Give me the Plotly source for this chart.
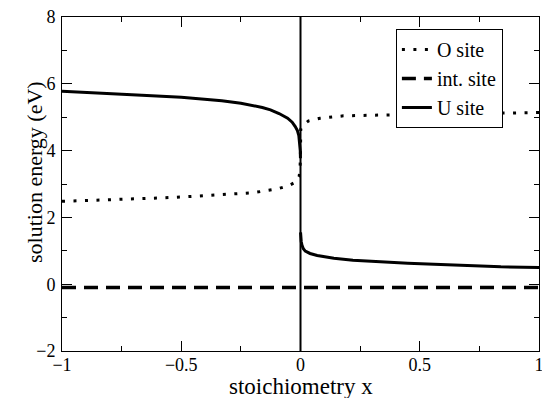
import plotly.graph_objects as go

# O site (dotted)
x_o = [-1.0, -0.85, -0.713, -0.6, -0.476, -0.336, -0.197, -0.099, -0.05, -0.025, -0.013,
       -0.006, -0.002, 0.0, 0.001, 0.01, 0.034, 0.082, 0.18, 0.3, 0.42, 0.655, 0.8, 0.95, 1.0]
y_o = [2.48, 2.51, 2.54, 2.58, 2.62, 2.67, 2.74, 2.85, 2.95, 3.04, 3.12,
       3.22, 3.40, 4.0, 4.64, 4.76, 4.89, 4.97, 5.04, 5.06, 5.07, 5.10, 5.11, 5.13, 5.14]

# U site (solid), two branches separated at x = 0
x_u_left = [-1.0, -0.9, -0.8, -0.665, -0.5, -0.4, -0.33, -0.25, -0.21, -0.16, -0.126,
            -0.09, -0.054, -0.035, -0.022, -0.013, -0.007, -0.003, -0.001, -0.0002]
y_u_left = [5.78, 5.75, 5.71, 5.66, 5.60, 5.54, 5.49, 5.42, 5.37, 5.29, 5.22,
            5.11, 4.97, 4.85, 4.72, 4.60, 4.45, 4.25, 4.00, 3.77]
x_u_right = [0.0002, 0.001, 0.003, 0.006, 0.012, 0.02, 0.04, 0.07, 0.14, 0.22, 0.33,
             0.45, 0.56, 0.7, 0.84, 1.0]
y_u_right = [1.55, 1.40, 1.28, 1.17, 1.06, 0.99, 0.92, 0.86, 0.78, 0.72, 0.67,
             0.63, 0.60, 0.56, 0.52, 0.50]

# interstitial site (dashed)
x_int = [-1.0, 1.0]
y_int = [-0.1, -0.1]

# vertical reference line at x = 0
x_vline = [0.0, 0.0]
y_vline = [-2.0, 8.0]

x_title = "stoichiometry x"
y_title = "solution energy (eV)"

FONT = "Liberation Serif, Times New Roman, serif"

fig = go.Figure()
fig.add_trace(go.Scatter(x=x_vline, y=y_vline, mode="lines",
                         line=dict(color="black", width=2), showlegend=False, hoverinfo="skip"))
fig.add_trace(go.Scatter(x=x_o, y=y_o, mode="lines", name="O site",
                         line=dict(color="black", width=3, dash="3px,8.5px")))
fig.add_trace(go.Scatter(x=x_int, y=y_int, mode="lines", name="int. site",
                         line=dict(color="black", width=3.5, dash="14px,8px")))
fig.add_trace(go.Scatter(x=x_u_left + [None] + x_u_right, y=y_u_left + [None] + y_u_right,
                         mode="lines", name="U site", connectgaps=False,
                         line=dict(color="black", width=3)))

axis_common = dict(
    showline=True, linecolor="black", linewidth=1, mirror="ticks",
    ticks="inside", ticklen=10, tickwidth=1, tickcolor="black",
    showgrid=False, zeroline=False, automargin=False, ticklabeloverflow="allow",
    tickfont=dict(family=FONT, size=18, color="black"),
)

fig.update_xaxes(range=[-1, 1], dtick=0.5, tick0=0, ticklabelstandoff=-3,
                 minor=dict(dtick=0.25, ticks="inside", ticklen=5, tickcolor="black", showgrid=False),
                 **axis_common)
fig.update_yaxes(range=[-2, 8], dtick=2, tick0=0, ticklabelstandoff=2,
                 minor=dict(dtick=1, ticks="inside", ticklen=5, tickcolor="black", showgrid=False),
                 **axis_common)

# axis titles placed as text annotations relative to the plot area
fig.add_annotation(text=x_title, xref="paper", yref="paper", x=0.5, y=0,
                   xanchor="center", yanchor="middle", yshift=-35, showarrow=False,
                   font=dict(family=FONT, size=23, color="black"))
fig.add_annotation(text=y_title, xref="paper", yref="paper", x=0, y=0.5,
                   xanchor="center", yanchor="middle", xshift=-28, yshift=12,
                   textangle=-90, showarrow=False,
                   font=dict(family=FONT, size=22, color="black"))

# the page body adds an 8px offset, so the figure is sized to fit the 550x398 window
fig.update_layout(
    width=542, height=390,
    margin=dict(l=54, r=11, t=9, b=47),
    paper_bgcolor="white", plot_bgcolor="white",
    font=dict(family=FONT, color="black"),
    legend=dict(x=0.70, y=0.964, xanchor="left", yanchor="top",
                bgcolor="white", bordercolor="black", borderwidth=1,
                font=dict(family=FONT, size=20, color="black"),
                tracegroupgap=0),
    showlegend=True,
)

fig.write_html("out.html")
